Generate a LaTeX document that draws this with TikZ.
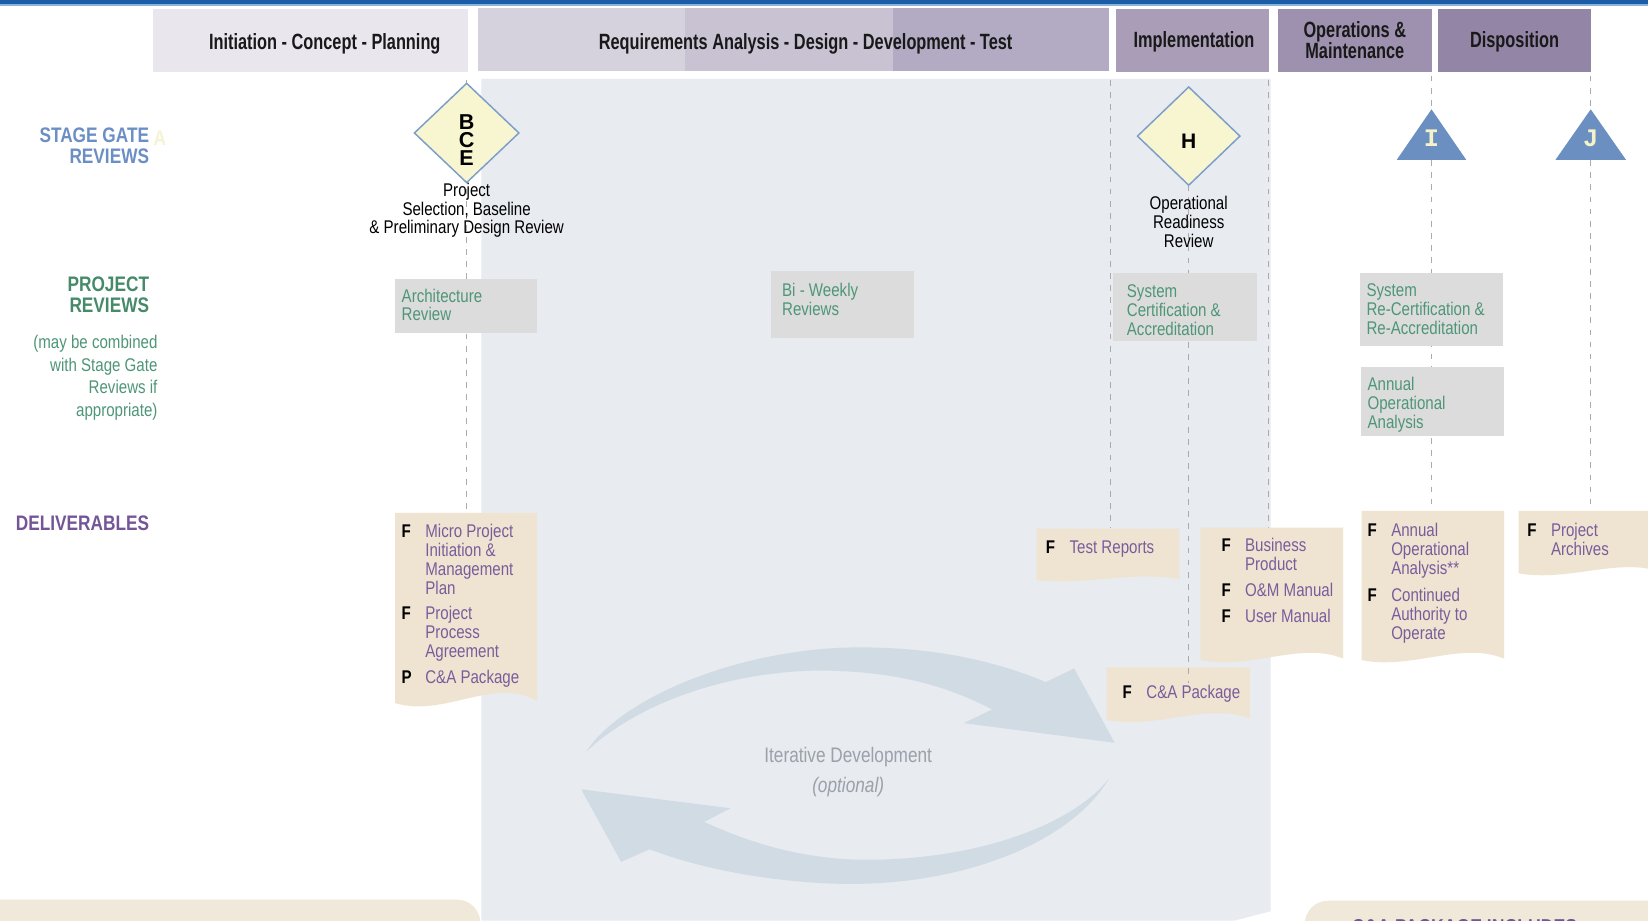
\documentclass[tikz,border=0pt]{standalone}
\usepackage{fontspec}
\setmainfont{Liberation Sans}[FakeStretch=0.82]
\newfontfamily\hdrfont{Liberation Sans}[FakeStretch=0.74]
\newfontfamily\widesans{Liberation Sans}
\newfontfamily\monofam{Liberation Mono}
\usetikzlibrary{shapes.geometric}

\definecolor{barblue}{HTML}{1A5CA6}
\definecolor{barlight}{HTML}{8DB0DA}
\definecolor{hA}{HTML}{E9E6EE}
\definecolor{hBa}{HTML}{D6D2DD}
\definecolor{hBb}{HTML}{C9C2D3}
\definecolor{hBc}{HTML}{B3AAC3}
\definecolor{hC}{HTML}{A99DB7}
\definecolor{hD}{HTML}{9E91AF}
\definecolor{hE}{HTML}{9385A6}
\definecolor{panel}{HTML}{E8EBF0}
\definecolor{gateblue}{HTML}{6B8FC5}
\definecolor{revgreen}{HTML}{4E9677}
\definecolor{labgreen}{HTML}{468A6A}
\definecolor{delpurple}{HTML}{7A5C9C}
\definecolor{labpurple}{HTML}{745595}
\definecolor{revfill}{HTML}{DCDCDC}
\definecolor{delfill}{HTML}{EFE4D1}
\definecolor{diafill}{HTML}{F8F6D0}
\definecolor{diaedge}{HTML}{7C9ECB}
\definecolor{trifill}{HTML}{6A8FC0}
\definecolor{trilet}{HTML}{F6F2C8}
\definecolor{arrowc}{HTML}{D0DBE4}
\definecolor{itertext}{HTML}{9AA1A9}
\definecolor{guidec}{HTML}{ABABAB}
\definecolor{botfill}{HTML}{F0E8D8}
\definecolor{faintA}{HTML}{F6F3D2}

\newcommand\wavebox[5]{%
  \fill[delfill] (#1,#2) -- (#3,#2) -- (#3,{#4-2*#5})
    .. controls ({#3-0.3*(#3-#1)},{#4-26*#5}) and ({#1+0.35*(#3-#1)},{#4+14*#5}) .. (#1,#4) -- cycle;}
\newcommand\fl[1]{\makebox[22.5pt][l]{\textcolor{black}{\bfseries #1}}}
\newcommand\cletter[1]{\hbox to 20pt{\hss #1\hss}}

\tikzset{
  body/.style={inner sep=0pt, font=\fontsize{17.5}{18}\selectfont},
  revtxt/.style={body, text=revgreen, anchor=north west, align=left},
  deltxt/.style={body, text=delpurple, anchor=north west},
  blacktxt/.style={body, text=black, anchor=north, align=center},
  hdrtxt/.style={inner sep=0pt, font=\hdrfont\bfseries\fontsize{21}{20}\selectfont, text=black!90},
  revbox/.style={fill=revfill, draw=none, inner sep=0pt, anchor=north west},
  gate/.style={shape=diamond, fill=diafill, draw=diaedge, line width=1.4pt, inner sep=0pt},
  gatelet/.style={inner sep=0pt, font=\widesans\bfseries\fontsize{22}{20}\selectfont, anchor=base},
  trilet/.style={inner sep=0pt, font=\monofam\bfseries\fontsize{24}{24}\selectfont, text=trilet, anchor=base},
  guide/.style={draw=guidec, line width=1.3pt, dash pattern=on 5.5pt off 6pt},
  sidelab/.style={inner sep=0pt, font=\bfseries\fontsize{20}{20}\selectfont, anchor=north east, align=right}
}

\begin{document}
\begin{tikzpicture}[x=1pt,y=-1pt]
\useasboundingbox (0,0) rectangle (1568,876);
\fill[white] (0,0) rectangle (1568,876);
\begin{scope}
\clip (0,0) rectangle (1568,876);

% top bar
\fill[barblue] (0,0) rectangle (1568,4);
\fill[barlight] (0,4) rectangle (1568,5.3);

% background panel
\fill[panel] (458,75) -- (1209,75) -- (1209,867) -- (1174,876) -- (458,876) -- cycle;

% header boxes
\node[revbox, fill=hA, minimum width=300, minimum height=60] (h1) at (145,8) {};
\fill[hBa] (455,8) rectangle (652,68);
\fill[hBb] (652,8) rectangle (850,68);
\fill[hBc] (850,8) rectangle (1055,68);
\node[revbox, fill=none, minimum width=600, minimum height=60] (h2) at (455,8) {};
\node[revbox, fill=hC, minimum width=145, minimum height=60] (h3) at (1062,8) {};
\node[revbox, fill=hD, minimum width=146, minimum height=60] (h4) at (1216,8) {};
\node[revbox, fill=hE, minimum width=146, minimum height=60] (h5) at (1368,8) {};
\node[hdrtxt, anchor=base] (h1t) at (309,47.1) {Initiation - Concept - Planning};
\node[hdrtxt, anchor=base] (h2t) at (766.5,47.1) {Requirements Analysis - Design - Development - Test};
\node[hdrtxt, anchor=base] (h3t) at (1136,45.5) {Implementation};
\node[hdrtxt, anchor=north, align=center] (h4t) at (1289,20.7) {Operations \&\\Maintenance};
\node[hdrtxt, anchor=base] (h5t) at (1441,45.5) {Disposition};

% guide lines
\coordinate (g1a) at (444,76);   \coordinate (g1b) at (444,488);
\coordinate (g2a) at (1056.5,76); \coordinate (g2b) at (1056.5,502);
\coordinate (g3a) at (1207,76);  \coordinate (g3b) at (1207,502);
\coordinate (g4a) at (1362,72);  \coordinate (g4b) at (1362,486);
\coordinate (g5a) at (1513.5,72); \coordinate (g5b) at (1513.5,486);
\coordinate (g6a) at (1130.5,176); \coordinate (g6b) at (1130.5,650);
\draw[guide] (g1a) -- (g1b);
\draw[guide] (g2a) -- (g2b);
\draw[guide] (g3a) -- (g3b);
\draw[guide] (g4a) -- (g4b);
\draw[guide] (g5a) -- (g5b);
\draw[guide] (g6a) -- (g6b);

% side labels
\node[sidelab, text=gateblue] (lstage) at (142,121.8) {STAGE GATE\\REVIEWS};
\node[inner sep=0pt, font=\bfseries\fontsize{20}{20}\selectfont, text=faintA] (lA) at (152,131.5) {A};
\node[sidelab, text=labgreen, font=\bfseries\fontsize{20}{20.5}\selectfont] (lproj) at (142,262.8) {PROJECT\\REVIEWS};
\node[inner sep=0pt, font=\fontsize{17.5}{21.7}\selectfont, text=revgreen, anchor=north east, align=right] (lmay) at (150,318.5) {(may be combined\\with Stage Gate\\Reviews if\\appropriate)};
\node[sidelab, text=labpurple] (ldel) at (142,490.8) {DELIVERABLES};

% iterative development arrows
\fill[arrowc] (558,715) .. controls (590,665) and (700,618) .. (811,616)
  .. controls (890,615) and (950,630) .. (995,649)
  -- (1022,636) -- (1060.5,706.7) -- (917,688) -- (944,675)
  .. controls (900,652) and (850,638) .. (777,638)
  .. controls (680,640) and (600,675) .. (558,715) -- cycle;
\fill[arrowc] (1055,741) .. controls (1020,800) and (920,842) .. (805,841)
  .. controls (740,840) and (670,828) .. (618,808)
  -- (591,820) -- (553,751) -- (695,769) -- (670,782)
  .. controls (720,805) and (770,818) .. (825,818)
  .. controls (930,818) and (1020,785) .. (1055,741) -- cycle;
\node[inner sep=0pt, anchor=base, text=itertext, font=\fontsize{20}{20}\selectfont] (iter) at (807,725.6) {Iterative Development};
\node[inner sep=0pt, anchor=base, text=itertext, font=\itshape\fontsize{20}{20}\selectfont] (opt) at (807,754.2) {(optional)};

% stage gates
\node[gate, minimum width=100, minimum height=95] (bce) at (444,126.5) {};
\node[inner sep=0pt, anchor=north, font=\widesans\bfseries\fontsize{20.5}{17.5}\selectfont] (bceL) at (444,108.6)
  {\vbox{\baselineskip=17.5pt \lineskiplimit=-100pt \lineskip=0pt \cletter{B}\cletter{C}\cletter{E}}};
\node[body, font=\fontsize{17.5}{17.5}\selectfont, anchor=north, align=center] (bcet) at (444,174.5) {Project\\Selection, Baseline\\\& Preliminary Design Review};

\node[gate, minimum width=98, minimum height=94] (gh) at (1131,129.5) {};
\node[gatelet, font=\widesans\bfseries\fontsize{20}{20}\selectfont] (ghH) at (1131,141) {H};
\node[blacktxt] (ght) at (1131,186.2) {Operational\\Readiness\\Review};

\fill[trifill] (1329,152) -- (1362,104) -- (1395,152) -- cycle;
\node[trilet] (gI) at (1362,139.6) {I};
\fill[trifill] (1480,152) -- (1513.5,104) -- (1547,152) -- cycle;
\node[trilet] (gJ) at (1513.5,139.6) {J};

% project reviews
\node[revbox, minimum width=135, minimum height=52] (arch) at (376,265) {};
\node[revtxt] (archt) at (382,274.5) {Architecture\\Review};
\node[revbox, minimum width=136, minimum height=63] (biw) at (733,258) {};
\node[revtxt] (biwt) at (744,269.5) {Bi - Weekly\\Reviews};
\node[revbox, minimum width=137, minimum height=64] (sysc) at (1059,260) {};
\node[revtxt] (sysct) at (1072,270.5) {System\\Certification \&\\Accreditation};
\node[revbox, minimum width=136, minimum height=69] (recert) at (1294,260) {};
\node[revtxt] (recertt) at (1300,269.5) {System\\Re-Certification \&\\Re-Accreditation};
\node[revbox, minimum width=136, minimum height=66] (annop) at (1295,349) {};
\node[revtxt] (annopt) at (1301,358.5) {Annual\\Operational\\Analysis};

% deliverables
\wavebox{376}{488}{511}{669}{1}
\node[deltxt] (d1) at (382,498.5) {\begin{tabular}{@{}l@{}l@{}}
\fl{F} & Micro Project\\
 & Initiation \&\\
 & Management\\
 & Plan\\[6.2pt]
\fl{F} & Project\\
 & Process\\
 & Agreement\\[6.2pt]
\fl{P} & C\&A Package
\end{tabular}};

\wavebox{986}{503}{1122}{552}{0.35}
\node[deltxt] (dtest) at (995,513.5) {\begin{tabular}{@{}l@{}l@{}}
\fl{F} & Test Reports
\end{tabular}};

\wavebox{1142}{502}{1278}{628}{0.7}
\node[deltxt] (dbus) at (1162,512.1) {\begin{tabular}{@{}l@{}l@{}}
\fl{F} & Business\\
 & Product\\[6.5pt]
\fl{F} & O\&M Manual\\[6.2pt]
\fl{F} & User Manual
\end{tabular}};

\wavebox{1295.5}{486}{1431}{628}{0.7}
\node[deltxt] (dann) at (1301,497.2) {\begin{tabular}{@{}l@{}l@{}}
\fl{F} & Annual\\
 & Operational\\
 & Analysis**\\[8pt]
\fl{F} & Continued\\
 & Authority to\\
 & Operate
\end{tabular}};

\wavebox{1445}{486}{1581}{545.5}{0.6}
\node[deltxt] (darch) at (1453,497.2) {\begin{tabular}{@{}l@{}l@{}}
\fl{F} & Project\\
 & Archives
\end{tabular}};

\wavebox{1053}{635}{1189.5}{685}{0.65}
\coordinate (g6c) at (1130.5,636);
\draw[guide] (g6c) -- (g6b);
\node[deltxt] (dca) at (1068,651.5) {\begin{tabular}{@{}l@{}l@{}}
\fl{F} & C\&A Package
\end{tabular}};

% bottom strips
\fill[botfill, rounded corners=22pt] (-40,856) rectangle (457,930);
\fill[botfill, rounded corners=22pt] (1241.5,857) rectangle (1700,930);
\node[inner sep=0pt, anchor=base west, text=labpurple, font=\bfseries\fontsize{20.5}{20}\selectfont] (capkg) at (1286,889.5) {C\&A PACKAGE INCLUDES};

\end{scope}
\end{tikzpicture}
\end{document}
